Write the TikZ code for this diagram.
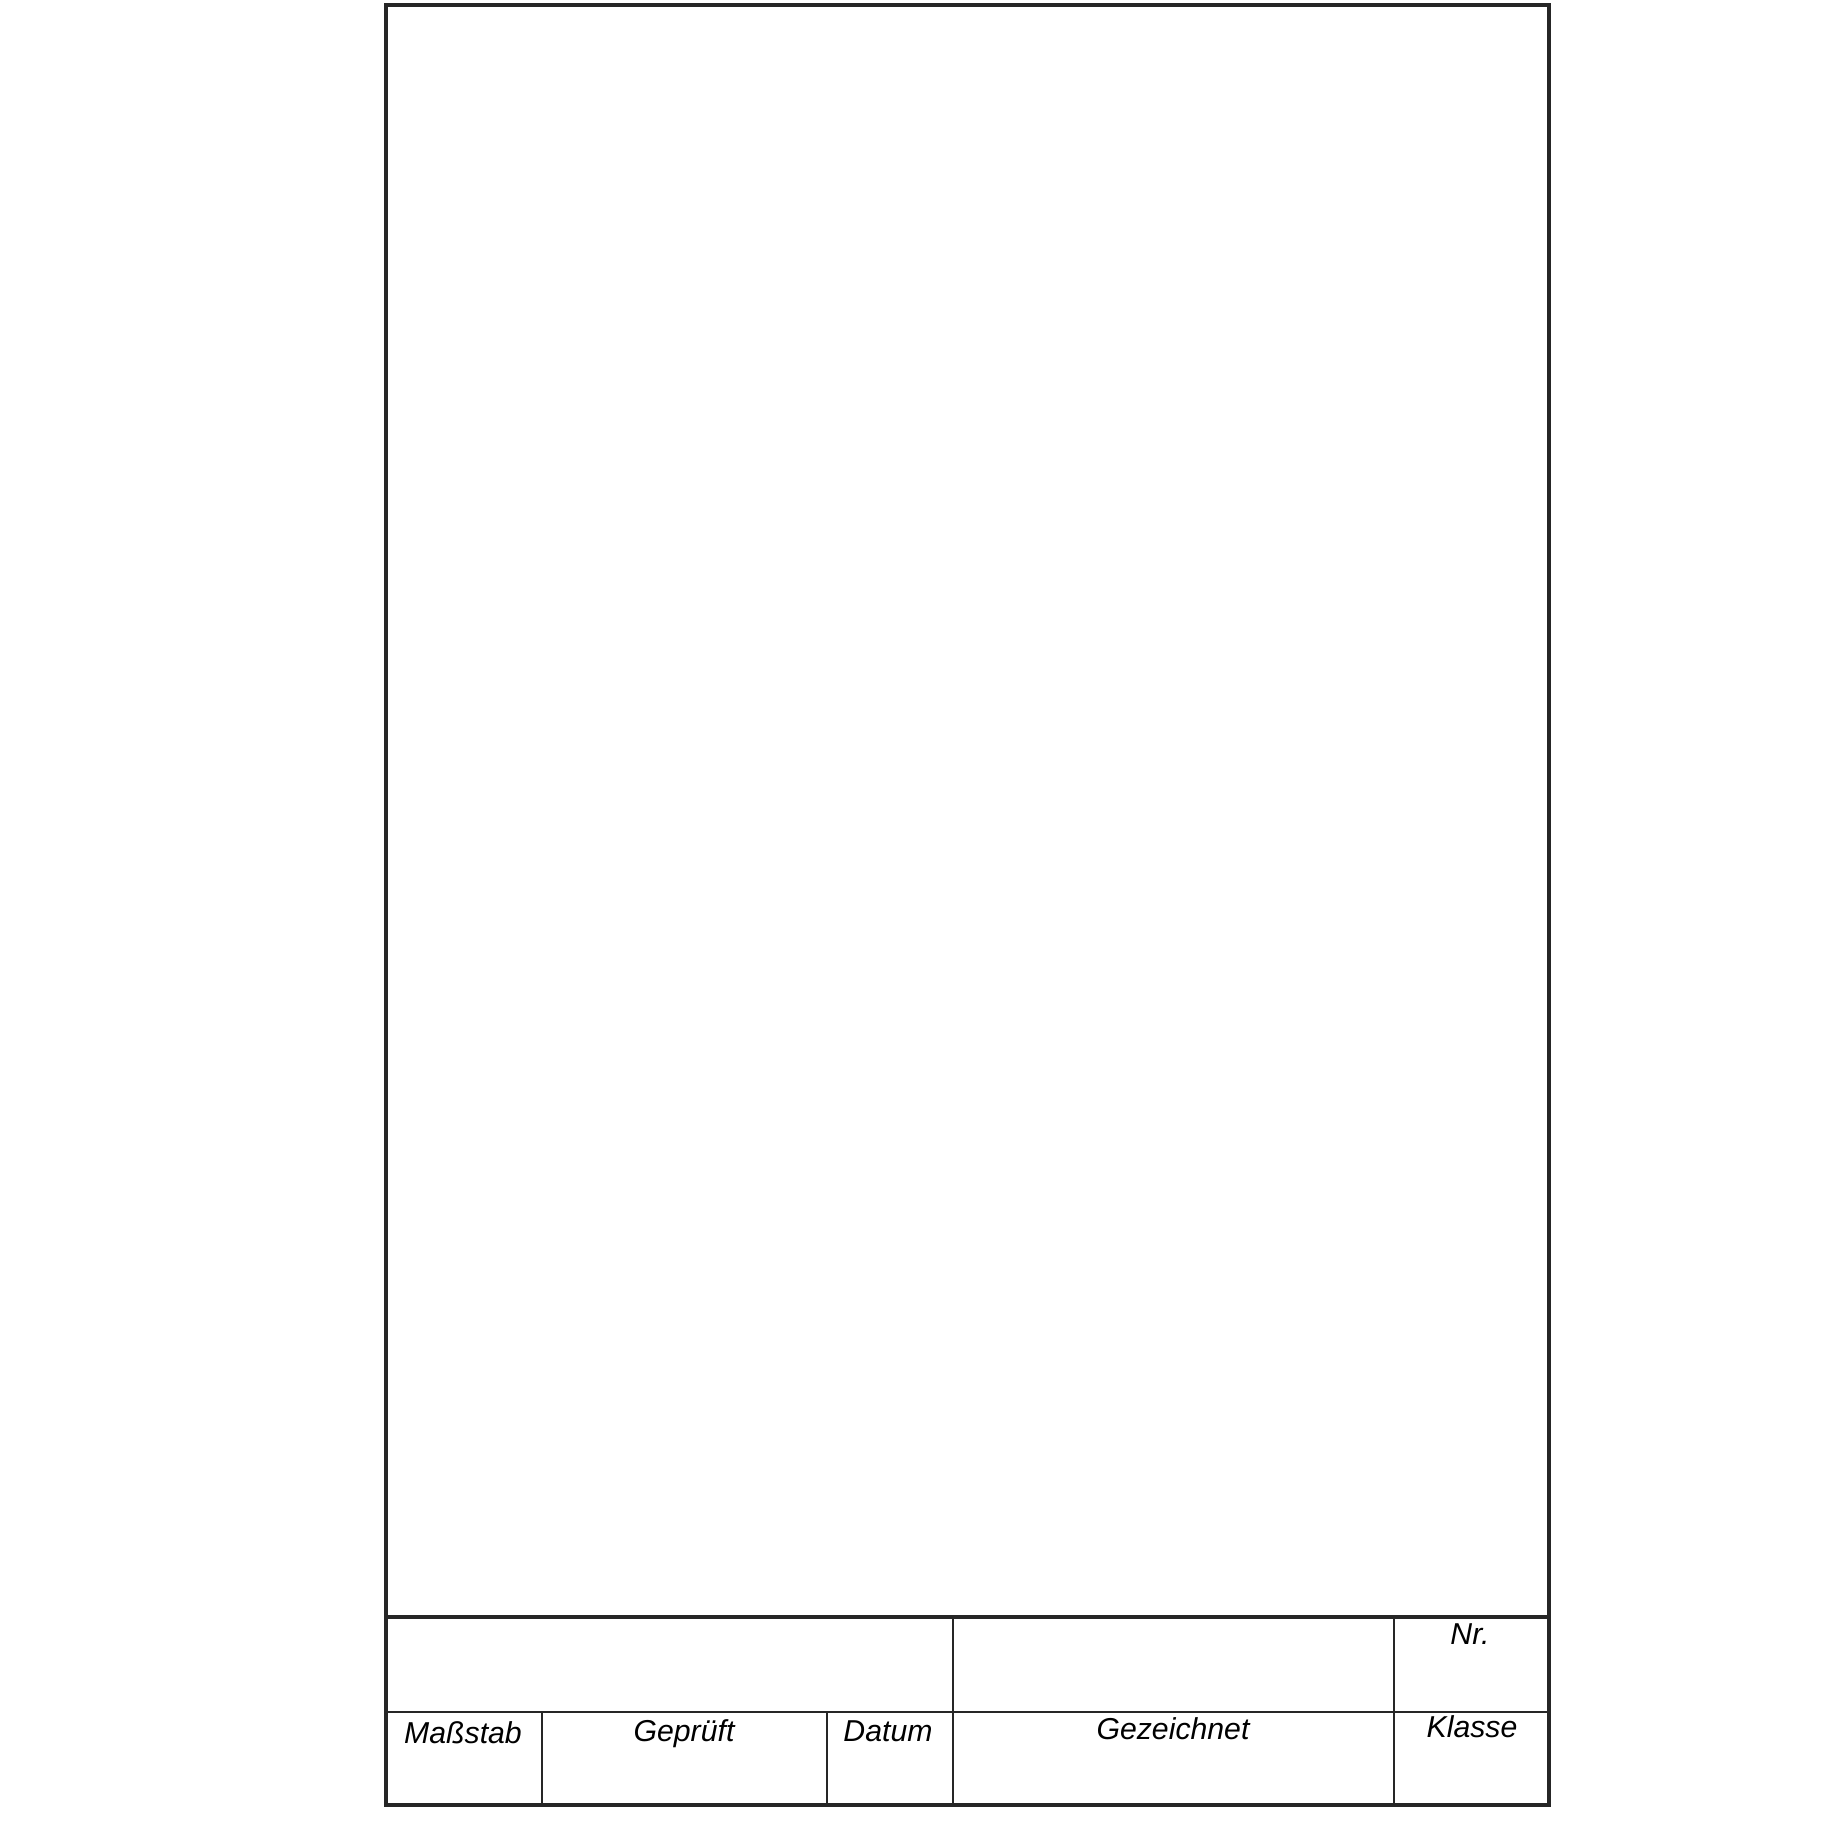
\documentclass[tikz,border=0pt]{standalone}
\usepackage{fontspec}
\setmainfont{Liberation Sans}
\usetikzlibrary{positioning}

\begin{document}
\begin{tikzpicture}[
		thick frame/.style={line width=1.15pt, color=black!85},
		thin rule/.style={line width=0.6pt, color=black!85},
		field/.style={font=\fontsize{8.6}{10}\selectfont\itshape, anchor=base, inner sep=0pt}]
		\useasboundingbox (0,0) rectangle (18.47,18.47);
		% outer border
		\draw [thick frame] (3.86,18.42) rectangle (15.49,0.42);
		% title block
		\draw [thick frame] (3.86,2.30) -- (15.49,2.30);
		\draw [thin rule] (3.86,1.35) -- (15.49,1.35);
		\draw [thin rule] (9.53,2.30) -- (9.53,0.42);
		\draw [thin rule] (13.94,2.30) -- (13.94,0.42);
		\draw [thin rule] (5.42,1.35) -- (5.42,0.42);
		\draw [thin rule] (8.27,1.35) -- (8.27,0.42);
		\node [field] (massstab) at (4.63,1.04) {Maßstab};
		\node [field] (geprueft) at (6.84,1.05) {Geprüft};
		\node [field] (datum) at (8.88,1.05) {Datum};
		\node [field] (gezeichnet) at (11.73,1.07) {Gezeichnet};
		\node [field] (klasse) at (14.72,1.09) {Klasse};
		\node [field] (nummer) at (14.70,2.02) {Nr.};
	\end{tikzpicture}
\end{document}
